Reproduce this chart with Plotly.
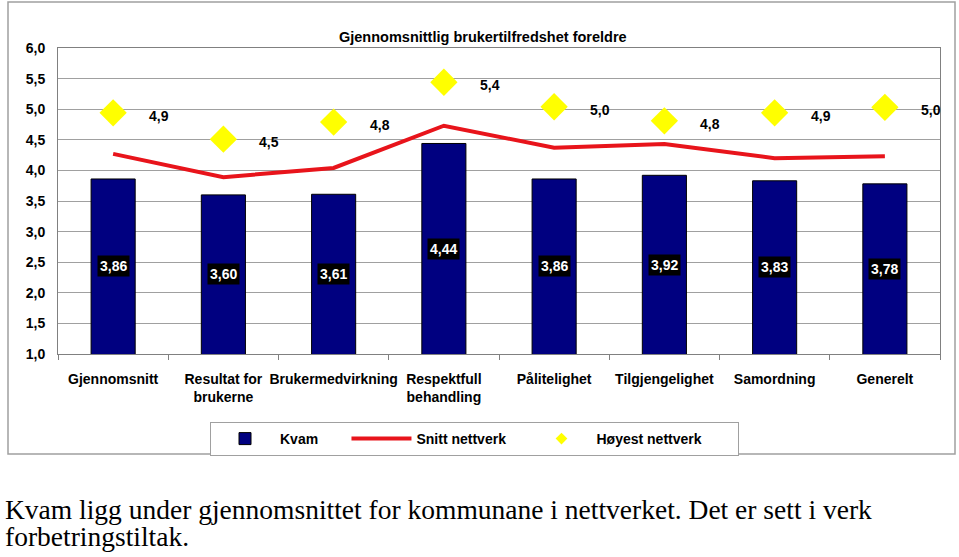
import plotly.graph_objects as go

categories = ["Gjennomsnitt", "Resultat for<br>brukerne", "Brukermedvirkning",
              "Respektfull<br>behandling", "Pålitelighet", "Tilgjengelighet",
              "Samordning", "Generelt"]
kvam = [3.86, 3.60, 3.61, 4.44, 3.86, 3.92, 3.83, 3.78]
snitt = [4.27, 3.89, 4.04, 4.73, 4.37, 4.43, 4.20, 4.23]
hoyest = [4.94, 4.51, 4.79, 5.44, 5.04, 4.81, 4.94, 5.03]
y_ticks = [1.0, 1.5, 2.0, 2.5, 3.0, 3.5, 4.0, 4.5, 5.0, 5.5, 6.0]
caption_lines = ["Kvam ligg under gjennomsnittet for kommunane i nettverket. Det er sett i verk",
                 "forbetringstiltak."]

FONT = "Liberation Sans, Arial, sans-serif"
NB = "\u00a0"

W, H = 959, 557
L, R, T, B = 58, 19, 48, 203
PW = W - L - R
PH = H - T - B


def px_x(p):
    return (p - L) / PW


def px_y(p):
    return (H - B - p) / PH


fig = go.Figure()
fig.add_trace(go.Bar(
    x=categories, y=kvam, name="Kvam" + NB * 6,
    marker=dict(color="#000080", line=dict(color="#000000", width=1)),
    width=0.4, hoverinfo="skip",
))
fig.add_trace(go.Scatter(
    x=categories, y=snitt, name="Snitt nettverk" + NB * 4, mode="lines",
    line=dict(color="#E8141B", width=4),
))
fig.add_trace(go.Scatter(
    x=categories, y=hoyest, name="Høyest nettverk", mode="markers",
    marker=dict(symbol="diamond", color="#FFFF00", size=21, line=dict(width=0)),
    showlegend=False, legendgroup="h",
))
# legend entry with the small diamond symbol used in the reference legend
fig.add_trace(go.Scatter(
    x=[None], y=[None], name="Høyest nettverk" + NB * 8, mode="markers",
    marker=dict(symbol="diamond", color="#FFFF00", size=9, line=dict(width=0)),
    legendgroup="h",
))

annotations = []
for c, v in zip(categories, kvam):
    annotations.append(dict(
        x=c, y=(1 + v) / 2, xref="x", yref="y", text=f"{v:.2f}".replace(".", ","),
        showarrow=False, bgcolor="#000000", borderpad=2,
        font=dict(family=FONT, size=14, color="#FFFFFF", weight="bold"),
    ))
for c, v in zip(categories, hoyest):
    annotations.append(dict(
        x=c, y=v, xref="x", yref="y", text=f"{v:.1f}".replace(".", ","),
        showarrow=False, xshift=46, yshift=-3,
        font=dict(family=FONT, size=14, color="#000000", weight="bold"),
    ))
annotations.append(dict(
    x=px_x(483), y=px_y(27), xref="paper", yref="paper",
    text="Gjennomsnittlig brukertilfredshet foreldre", showarrow=False,
    font=dict(family=FONT, size=14.5, color="#000000", weight="bold"),
))
for i, line in enumerate(caption_lines):
    annotations.append(dict(
        x=px_x(3), y=px_y(509 + 27 * i), xref="paper", yref="paper",
        xanchor="left", yanchor="middle", align="left",
        text=line, showarrow=False,
        font=dict(family="Liberation Serif, Times New Roman, serif", size=27.5, color="#000000"),
    ))

shapes = [dict(
    type="rect", xref="paper", yref="paper",
    x0=px_x(8), x1=px_x(955), y0=px_y(454), y1=px_y(2),
    line=dict(color="#A0A0A0", width=1.5), fillcolor="rgba(0,0,0,0)", layer="below",
)]

fig.update_layout(
    width=W, height=H,
    margin=dict(l=L, r=R, t=T, b=B, pad=0),
    paper_bgcolor="#FFFFFF", plot_bgcolor="#FFFFFF",
    separators=", ",
    showlegend=True,
    font=dict(family=FONT, size=14, color="#000000"),
    xaxis=dict(
        showgrid=False, showline=True, linecolor="#808080", linewidth=1,
        mirror=True, ticks="outside", tickson="boundaries", ticklen=5,
        tickcolor="#808080", tickangle=0, ticklabelstandoff=12,
        tickfont=dict(family=FONT, size=14, color="#000000", weight="bold"),
        range=[-0.5, 7.5],
    ),
    yaxis=dict(
        range=[1.0, 6.0], tickvals=y_ticks, tickformat=".1f",
        showgrid=True, gridcolor="#A0A0A0", gridwidth=1,
        showline=True, linecolor="#808080", linewidth=1, mirror=True,
        ticks="", zeroline=False, ticklabelstandoff=9,
        tickfont=dict(family=FONT, size=14, color="#000000", weight="bold"),
    ),
    legend=dict(
        orientation="h", x=px_x(210), y=px_y(422), xanchor="left", yanchor="top",
        bordercolor="#A0A0A0", borderwidth=1, bgcolor="#FFFFFF",
        font=dict(family=FONT, size=14, color="#000000", weight="bold"),
        itemwidth=60, itemclick=False, itemdoubleclick=False,
    ),
    annotations=annotations,
    shapes=shapes,
)

fig.write_html("out.html", config={"displayModeBar": False},
               post_script="document.body.style.margin='0px';")
